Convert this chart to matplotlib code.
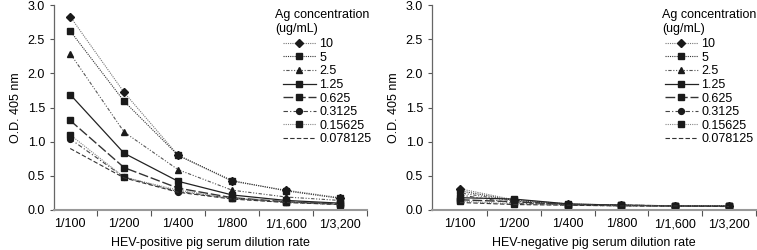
import matplotlib
matplotlib.use("Agg")
import matplotlib.pyplot as plt
import numpy as np

dilutions = ['1/100', '1/200', '1/400', '1/800', '1/1,600', '1/3,200']
concentrations = ['10', '5', '2.5', '1.25', '0.625', '0.3125', '0.15625', '0.078125']

# O.D. 405 nm, HEV-positive serum
positive = [
    [2.83, 1.72, 0.80, 0.42, 0.29, 0.18],
    [2.62, 1.59, 0.80, 0.43, 0.28, 0.17],
    [2.29, 1.14, 0.59, 0.29, 0.19, 0.14],
    [1.69, 0.83, 0.42, 0.22, 0.14, 0.10],
    [1.31, 0.62, 0.32, 0.18, 0.12, 0.09],
    [1.04, 0.48, 0.27, 0.17, 0.12, 0.08],
    [1.10, 0.48, 0.29, 0.17, 0.11, 0.08],
    [0.90, 0.47, 0.26, 0.16, 0.11, 0.08],
]

# O.D. 405 nm, HEV-negative serum
negative = [
    [0.31, 0.15, 0.09, 0.07, 0.06, 0.06],
    [0.28, 0.14, 0.08, 0.07, 0.06, 0.06],
    [0.25, 0.13, 0.08, 0.07, 0.06, 0.06],
    [0.18, 0.16, 0.09, 0.07, 0.06, 0.06],
    [0.15, 0.12, 0.08, 0.07, 0.06, 0.06],
    [0.22, 0.10, 0.08, 0.06, 0.06, 0.06],
    [0.13, 0.09, 0.07, 0.06, 0.06, 0.06],
    [0.11, 0.08, 0.07, 0.06, 0.06, 0.05],
]

# line style, marker, line colour, line width for each concentration
styles = [
    ((0, (1, 1)), 'D', '#777777', 0.8),
    ((0, (1, 1)), 's', '#333333', 0.8),
    ((0, (1, 1.5, 3, 1.5, 1, 1.5)), '^', '#555555', 0.8),
    ('-', 's', '#222222', 0.9),
    ((0, (7, 2)), 's', '#333333', 1.0),
    ((0, (4, 2, 1, 2)), 'o', '#444444', 0.8),
    ((0, (1, 1)), 's', '#888888', 0.8),
    ((0, (4, 2)), None, '#333333', 0.8),
]

FS = 9.0
plt.rcParams['font.family'] = ['Liberation Sans', 'DejaVu Sans']
plt.rcParams['font.size'] = FS

W, H = 757, 250
fig = plt.figure(figsize=(W / 100, H / 100), dpi=100)
ax1 = fig.add_axes([54 / W, 40 / H, 313 / W, 205 / H])
ax2 = fig.add_axes([432 / W, 40 / H, 324 / W, 205 / H])

x = np.arange(len(dilutions))

def draw(ax, data, xlabel, xmin, title_x, handle_x):
    for vals, conc, (ls, mk, col, lw) in zip(data, concentrations, styles):
        ax.plot(x, vals, linestyle=ls, marker=mk, color=col, lw=lw,
                markersize=4.2, markerfacecolor='#1a1a1a',
                markeredgecolor='#1a1a1a', label=conc)
    ax.set_xlim(xmin, 5.5)
    ax.set_ylim(0, 3.0)
    yt = np.arange(0, 3.01, 0.5)
    ax.set_yticks(yt)
    ax.set_yticklabels([f'{v:.1f}' for v in yt])
    ax.set_xticks(x + 0.5)
    ax.set_xticklabels([])
    ax.set_xticks(x, minor=True)
    ax.set_xticklabels(dilutions, minor=True)
    ax.tick_params(axis='x', which='minor', length=0, pad=6)
    ax.tick_params(axis='x', which='major', length=4, direction='out',
                   color='#555555')
    ax.tick_params(axis='y', length=3, direction='out', color='#555555')
    for s in ['top', 'right']:
        ax.spines[s].set_visible(False)
    ax.spines['bottom'].set_color('#999999')
    ax.spines['bottom'].set_linewidth(1.5)
    ax.spines['left'].set_color('#666666')
    ax.spines['left'].set_linewidth(0.9)
    ax.set_ylabel('O.D. 405 nm', labelpad=4)
    ax.set_xlabel(xlabel, labelpad=5)
    fig.text(title_x / W, 1 - 9 / H, 'Ag concentration\n(ug/mL)',
             ha='left', va='top', fontsize=FS, linespacing=1.2)
    ax.legend(loc='upper left', bbox_to_anchor=(handle_x / W, 1 - 38 / H),
              bbox_transform=fig.transFigure, frameon=False,
              handlelength=2.6, handletextpad=0.3, labelspacing=0.13,
              borderaxespad=0, borderpad=0, fontsize=FS)

draw(ax1, positive, 'HEV-positive pig serum dilution rate', -0.3, 275, 283)
draw(ax2, negative, 'HEV-negative pig serum dilution rate', -0.52, 662, 665)

fig.savefig('out.png', dpi=100)
